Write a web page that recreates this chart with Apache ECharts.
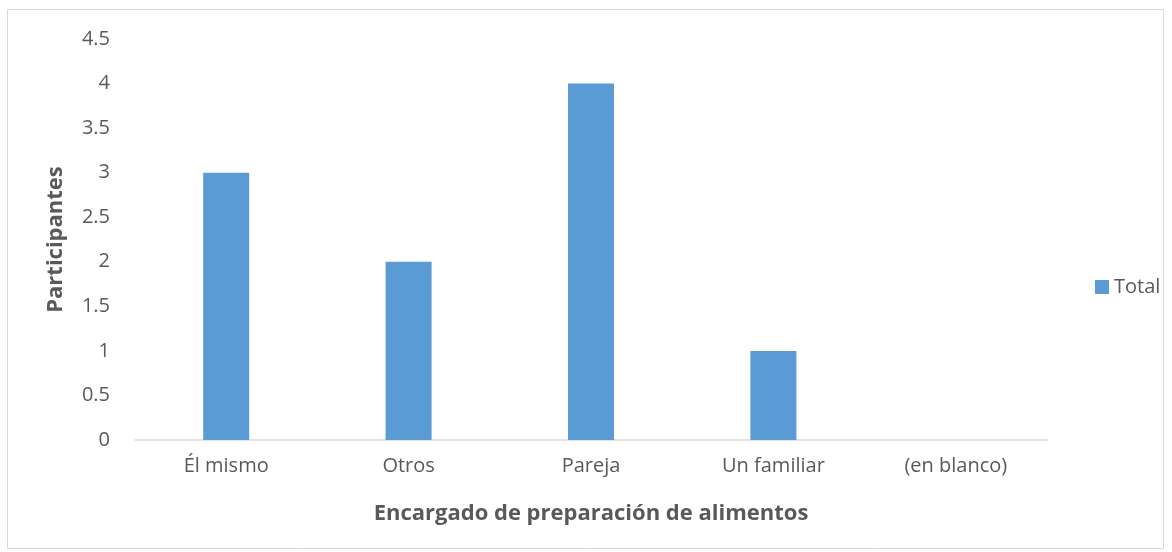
<!DOCTYPE html>
<html><head><meta charset="utf-8">
<script src="https://cdn.jsdelivr.net/npm/echarts@6/dist/echarts.min.js"></script>
<style>html,body{margin:0;padding:0;background:#fff}#c{width:1172px;height:552px}</style>
</head><body><div id="c"></div>
<script>
const categories = ["Él mismo", "Otros", "Pareja", "Un familiar", "(en blanco)"];
const totalValues = [3, 2, 4, 1, null];
const seriesName = "Total";
const xTitle = "Encargado de preparación de alimentos";
const yTitle = "Participantes";

const FONT = "'Open Sans', 'Noto Sans', sans-serif";
const chart = echarts.init(document.getElementById('c'));
chart.setOption({
  animation: false,
  textStyle: { fontFamily: FONT },
  graphic: [{
    type: 'rect', shape: { x: 7.5, y: 9.5, width: 1156, height: 539 },
    style: { fill: 'none', stroke: '#d9d9d9', lineWidth: 1 }, silent: true
  }],
  legend: {
    orient: 'vertical', left: 1090, top: 272,
    itemWidth: 14, itemHeight: 14, itemGap: 8,
    icon: 'rect',
    textStyle: { fontSize: 20, color: '#595959', fontFamily: FONT },
    data: [seriesName]
  },
  grid: { left: 135, right: 125, top: 39, bottom: 112 },
  xAxis: {
    type: 'category', data: categories,
    axisLine: { lineStyle: { color: '#d9d9d9', width: 1.5 } },
    axisTick: { show: false },
    axisLabel: { fontSize: 20, color: '#595959', margin: 16, fontFamily: FONT },
    name: xTitle, nameLocation: 'middle', nameGap: 63,
    nameTextStyle: { fontSize: 22, fontWeight: 'bold', color: '#595959', fontFamily: FONT }
  },
  yAxis: {
    type: 'value', min: 0, max: 4.5, interval: 0.5,
    splitLine: { show: false },
    axisLine: { show: false }, axisTick: { show: false },
    axisLabel: { fontSize: 20, color: '#595959', margin: 25, fontFamily: FONT },
    name: yTitle, nameLocation: 'middle', nameGap: 68,
    nameTextStyle: { fontSize: 22, fontWeight: 'bold', color: '#595959', fontFamily: FONT }
  },
  series: [{
    name: seriesName, type: 'bar', data: totalValues, barWidth: 46,
    itemStyle: { color: '#5b9bd5' }
  }]
});
</script></body></html>
